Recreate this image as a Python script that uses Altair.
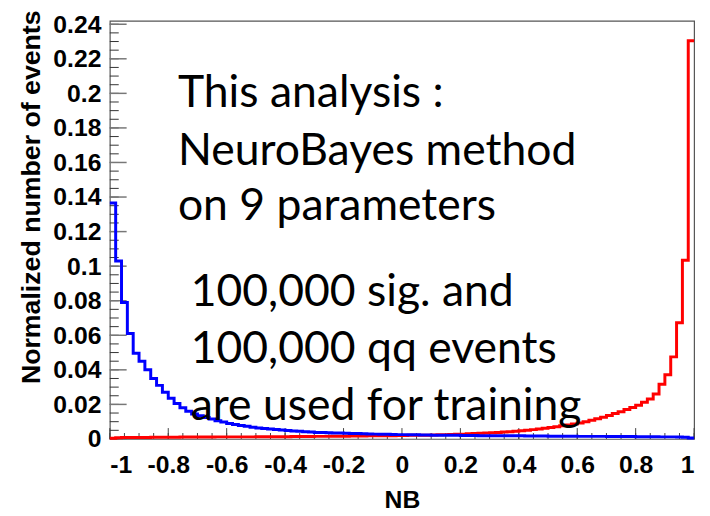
import altair as alt
import pandas as pd

# 100 bins of width 0.02 on [-1, 1]
n_bins = 100
bin_lo = -1.0
bin_w = 0.02

blue_vals = [
    0.1365, 0.103, 0.079, 0.061, 0.0496, 0.045, 0.040, 0.035, 0.031, 0.027,
    0.0235, 0.0205, 0.018, 0.016, 0.0145, 0.0134, 0.0124, 0.0115, 0.0106, 0.0098,
    0.0090, 0.0084, 0.0078, 0.0073, 0.0068, 0.0064, 0.0061, 0.0058, 0.0055, 0.0052,
    0.0049, 0.0046, 0.0044, 0.0042, 0.0040, 0.0038, 0.0037, 0.0036, 0.0035, 0.0034,
    0.0033, 0.0032, 0.0031, 0.0030, 0.0029, 0.0028, 0.0027, 0.0027, 0.0026, 0.0025,
    0.0025, 0.0024, 0.0024, 0.0023, 0.0023, 0.0022, 0.0022, 0.0022, 0.0021, 0.0021,
    0.0020, 0.0020, 0.0020, 0.0019, 0.0019, 0.0019, 0.0019, 0.0018, 0.0018, 0.0018,
    0.0018, 0.0017, 0.0017, 0.0017, 0.0017, 0.0016, 0.0016, 0.0016, 0.0016, 0.0016,
    0.0015, 0.0015, 0.0015, 0.0015, 0.0015, 0.0014, 0.0014, 0.0014, 0.0014, 0.0014,
    0.0013, 0.0013, 0.0013, 0.0013, 0.0012, 0.0012, 0.0012, 0.0011, 0.0010, 0.0006,
]

red_vals = [
    0.0004, 0.0007, 0.0008, 0.0008, 0.0009, 0.0009, 0.0009, 0.0010, 0.0010, 0.0010,
    0.0010, 0.0010, 0.0011, 0.0011, 0.0011, 0.0011, 0.0011, 0.0011, 0.0012, 0.0012,
    0.0012, 0.0012, 0.0012, 0.0012, 0.0012, 0.0013, 0.0013, 0.0013, 0.0013, 0.0013,
    0.0013, 0.0014, 0.0014, 0.0014, 0.0014, 0.0015, 0.0015, 0.0015, 0.0016, 0.0016,
    0.0016, 0.0017, 0.0017, 0.0017, 0.0018, 0.0018, 0.0018, 0.0019, 0.0019, 0.0020,
    0.0020, 0.0021, 0.0021, 0.0022, 0.0022, 0.0023, 0.0024, 0.0025, 0.0026, 0.0027,
    0.0028, 0.0030, 0.0031, 0.0033, 0.0034, 0.0036, 0.0038, 0.0040, 0.0042, 0.0045,
    0.0047, 0.0050, 0.0054, 0.0058, 0.0062, 0.0066, 0.0071, 0.0076, 0.0081, 0.0086,
    0.0092, 0.0100, 0.0108, 0.0117, 0.0126, 0.0136, 0.0147, 0.0158, 0.0170, 0.0182,
    0.0195, 0.0212, 0.0231, 0.0260, 0.0316, 0.0372, 0.0475, 0.0673, 0.1034, 0.2305,
]

x_ticks = [-1, -0.8, -0.6, -0.4, -0.2, 0, 0.2, 0.4, 0.6, 0.8, 1]
y_ticks = [0, 0.02, 0.04, 0.06, 0.08, 0.1, 0.12, 0.14, 0.16, 0.18, 0.2, 0.22, 0.24]
x_minor = [round(-1 + 0.05 * i, 3) for i in range(41)]
y_minor = [round(0.005 * i, 3) for i in range(49)]

ann_text = ["This analysis :", "NeuroBayes method", "on 9 parameters",
            "100,000 sig. and", "100,000 qq events", "are used for training"]
ann_x = [-0.767, -0.767, -0.767, -0.723, -0.723, -0.723]
ann_y = [0.1923, 0.1585, 0.1269, 0.0767, 0.0440, 0.0107]

W, H = 591, 423
XDOM = [-1, 1]
YDOM = [0, 0.242]


def step_frame(vals, name):
    xs = [bin_lo + bin_w * i for i in range(n_bins)] + [1.0]
    ys = list(vals) + [vals[-1]]
    return pd.DataFrame({"x": xs, "y": ys, "s": name})


xs = alt.Scale(domain=XDOM, nice=False, zero=False)
ys = alt.Scale(domain=YDOM, nice=False, zero=False)

x_axis = alt.Axis(
    values=x_ticks, ticks=False, grid=False, domain=False, labelOverlap=False,
    labelFont="Liberation Sans", labelFontWeight="bold", labelFontSize=25,
    labelColor="black", labelPadding=14,
    labelExpr="(datum.value < 0 ? '-' : '') + format(abs(datum.value), '.1~f')",
    title="NB", titleFont="Liberation Sans", titleFontWeight="bold",
    titleFontSize=25, titleColor="black", titlePadding=10,
)
y_axis = alt.Axis(
    values=y_ticks, ticks=False, grid=False, domain=False, labelOverlap=False,
    labelFont="Liberation Sans", labelFontWeight="bold", labelFontSize=25,
    labelColor="black", labelPadding=9,
    labelExpr="format(datum.value, '.2~f')",
    title="Normalized number of events", titleFont="Liberation Sans",
    titleFontWeight="bold", titleFontSize=27, titleColor="black", titlePadding=7,
    titleY=178,
)

X = lambda f: alt.X(f, scale=xs, axis=x_axis)
Y = lambda f: alt.Y(f, scale=ys, axis=y_axis)

red = alt.Chart(step_frame(red_vals, "red")).mark_line(
    interpolate="step-after", color="#ff0000", strokeWidth=3
).encode(x=X("x:Q"), y=Y("y:Q"))

blue = alt.Chart(step_frame(blue_vals, "blue")).mark_line(
    interpolate="step-after", color="#0000ff", strokeWidth=3
).encode(x=X("x:Q"), y=Y("y:Q"))

xmaj = alt.Chart(pd.DataFrame({"v": x_ticks})).mark_rule(color="#444", strokeWidth=1).encode(
    x=X("v:Q"), y=alt.value(H), y2=alt.value(H - 11))
xmin = alt.Chart(pd.DataFrame({"v": x_minor})).mark_rule(color="#444", strokeWidth=1).encode(
    x=X("v:Q"), y=alt.value(H), y2=alt.value(H - 6))
ymaj = alt.Chart(pd.DataFrame({"v": y_ticks})).mark_rule(color="#777", strokeWidth=1.5).encode(
    y=Y("v:Q"), x=alt.value(0), x2=alt.value(17))
ymin = alt.Chart(pd.DataFrame({"v": y_minor})).mark_rule(color="#333", strokeWidth=1).encode(
    y=Y("v:Q"), x=alt.value(0), x2=alt.value(9))

ann = alt.Chart(pd.DataFrame({"t": ann_text, "x": ann_x, "y": ann_y})).mark_text(
    font="Lato", fontSize=45, color="black", align="left", baseline="alphabetic"
).encode(x=X("x:Q"), y=Y("y:Q"), text="t:N")

chart = alt.layer(xmin, xmaj, ymin, ymaj, red, blue, ann).properties(
    width=W, height=H,
    autosize="none",
    padding={"left": 103, "top": 10, "right": 8, "bottom": 75},
).configure_view(stroke="#555", strokeWidth=1.2)

chart.save("out.html", embed_options={"renderer": "svg", "actions": False})
